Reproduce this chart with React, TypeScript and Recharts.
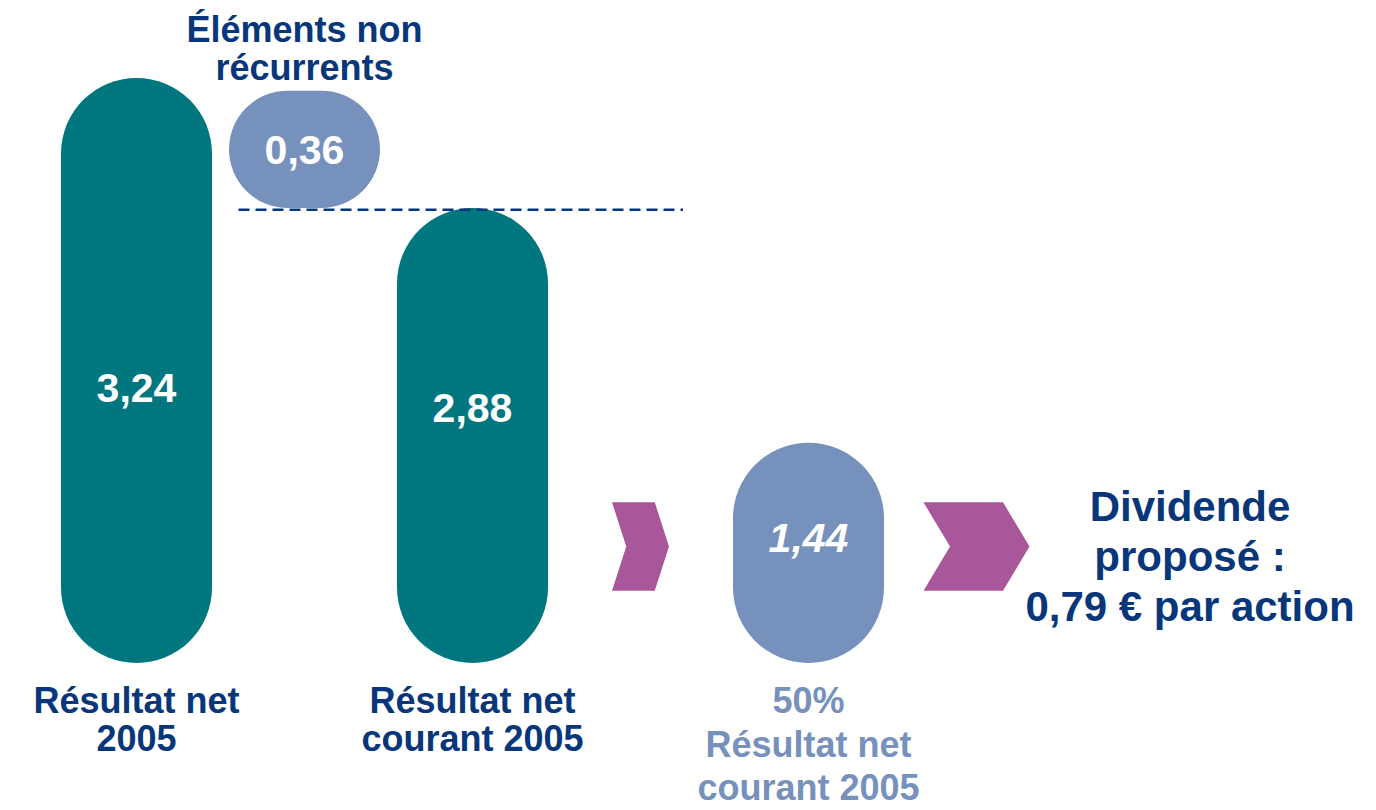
import { Bar, BarChart, Cell, LabelList, ReferenceLine, XAxis, YAxis } from "recharts";

// steps of the bridge, left to right
const stepNames = [
  "Résultat net\n2005",
  "Éléments non\nrécurrents",
  "Résultat net\ncourant 2005",
  "flèche 1",
  "50%\nRésultat net\ncourant 2005",
  "flèche 2",
];
const stepKinds = ["total", "delta", "total", "arrow", "share", "arrow"];
// printed amounts (€ per share)
const printedValues = [3.24, 0.36, 2.88, null, 1.44, null];
// drawn extent of each shape on the hidden axis
const levelLow = [0, 2.52, 0, 0.4, 0, 0.4];
const levelHigh = [3.24, 3.17, 2.52, 0.89, 1.22, 0.89];
const dashLevel = 2.51;
const dividendLines = ["Dividende", "proposé :", "0,79 € par action"];

const data = stepNames.map((name, i) => ({
  name,
  kind: stepKinds[i],
  value: printedValues[i],
  level: [levelLow[i], levelHigh[i]],
}));

const FONT = "'Liberation Sans', Arial, sans-serif";
const NAVY = "#07367A";
const TEAL = "#00767F";
const SLATE = "#7791BD";
const PLUM = "#A8579A";

const kindFill: Record<string, string> = {
  total: TEAL,
  delta: SLATE,
  share: SLATE,
  arrow: PLUM,
};

const BAR_SIZE = 151;
const arrowWidths: Record<string, number> = { "flèche 1": 57, "flèche 2": 106 };
const valueNudge = [16.5, 0, -28.5, 0, -15, 0];

function box(props: any) {
  const vb = props.viewBox ?? props;
  const y = Math.min(vb.y, vb.y + vb.height);
  return { x: vb.x, y, width: vb.width, height: Math.abs(vb.height) };
}

function StepShape(props: any) {
  const { x, y, width, height } = box(props);
  const { fill, payload } = props;
  if (payload.kind === "arrow") {
    const w = arrowWidths[payload.name];
    const d = w * 0.25;
    const x0 = x + width / 2 - w / 2;
    const mid = y + height / 2;
    const pts = [
      [x0, y],
      [x0 + w - d, y],
      [x0 + w, mid],
      [x0 + w - d, y + height],
      [x0, y + height],
      [x0 + d, mid],
    ]
      .map((p) => p.join(","))
      .join(" ");
    return <polygon points={pts} fill={fill} />;
  }
  const r = Math.min(width, height) / 2;
  return <rect x={x} y={y} width={width} height={height} rx={r} ry={r} fill={fill} />;
}

function ValueLabel(props: any) {
  const { value, index } = props;
  if (value == null) return null;
  const { x, y, width, height } = box(props);
  const cy = y + height / 2 + valueNudge[index];
  const italic = stepKinds[index] === "share";
  return (
    <text
      x={x + width / 2}
      y={cy + 14.5}
      textAnchor="middle"
      fill="#ffffff"
      fontFamily={FONT}
      fontWeight="bold"
      fontStyle={italic ? "italic" : "normal"}
      fontSize={41}
    >
      {String(value.toFixed(2)).replace(".", ",")}
    </text>
  );
}

function NameLabel(props: any) {
  const { index } = props;
  const kind = stepKinds[index];
  if (kind === "arrow") return null;
  const { x, y, width, height } = box(props);
  const lines = stepNames[index].split("\n");
  const step = kind === "share" ? 43.5 : 38;
  const first = kind === "delta" ? y - 11 - step * (lines.length - 1) : y + height + 50;
  return (
    <text
      x={x + width / 2}
      textAnchor="middle"
      fill={kind === "share" ? SLATE : NAVY}
      fontFamily={FONT}
      fontWeight="bold"
      fontSize={36}
    >
      {lines.map((line, i) => (
        <tspan key={i} x={x + width / 2} y={first + i * step}>
          {line}
        </tspan>
      ))}
    </text>
  );
}

function DashShape(props: any) {
  const { x1, x2, y1 } = props;
  return (
    <line
      x1={x1 - (BAR_SIZE / 2 - 10)}
      x2={x2 + 43}
      y1={y1}
      y2={y1}
      stroke={NAVY}
      strokeWidth={2.5}
      strokeDasharray="11 6"
    />
  );
}

export default function App() {
  return (
    <div style={{ position: "relative", width: 1360, height: 802, marginBottom: -8 }}>
      <BarChart
        width={1360}
        height={802}
        data={data}
        margin={{ top: 5, right: 308, bottom: 147, left: 44 }}
      >
        <XAxis dataKey="name" hide />
        <YAxis domain={[0, 3.6]} hide />
        <Bar dataKey="level" barSize={BAR_SIZE} shape={StepShape} isAnimationActive={false}>
          {data.map((d, i) => (
            <Cell key={i} fill={kindFill[d.kind]} />
          ))}
          <LabelList dataKey="value" content={ValueLabel} />
          <LabelList dataKey="name" content={NameLabel} />
        </Bar>
        <ReferenceLine
          segment={[
            { x: stepNames[1], y: dashLevel },
            { x: stepNames[3], y: dashLevel },
          ]}
          shape={DashShape}
        />
      </BarChart>
      <div
        style={{
          position: "absolute",
          left: 982,
          top: 474,
          width: 400,
          textAlign: "center",
          fontFamily: FONT,
          fontWeight: "bold",
          fontSize: 42,
          lineHeight: "50px",
          color: NAVY,
        }}
      >
        {dividendLines.map((line) => (
          <div key={line}>{line}</div>
        ))}
      </div>
    </div>
  );
}
